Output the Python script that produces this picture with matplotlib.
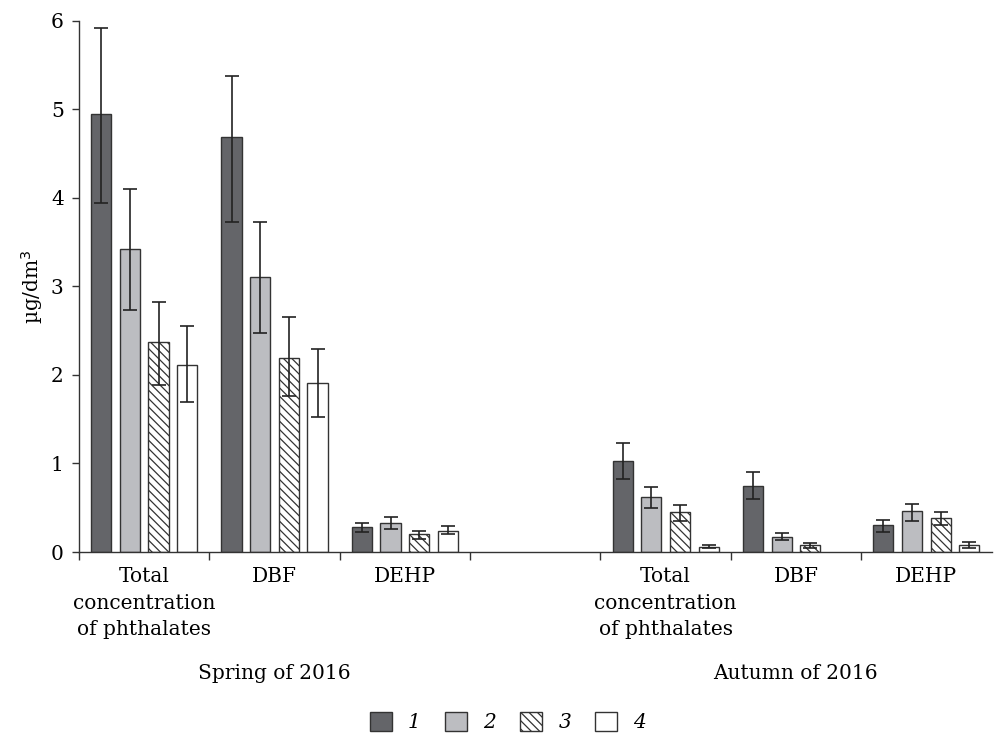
import numpy as np
import matplotlib.pyplot as plt
from matplotlib.patches import Patch

plt.rcParams['font.family'] = 'DejaVu Serif'
plt.rcParams['hatch.linewidth'] = 0.9

# Data
cat_labels = ['Total\nconcentration\nof phthalates', 'DBF', 'DEHP',
              'Total\nconcentration\nof phthalates', 'DBF', 'DEHP']
cat_pos = [0, 1, 2, 4, 5, 6]
series_names = ['1', '2', '3', '4']

# bar heights per series (rows) and category (columns)
values = [
    [4.95, 4.69, 0.28, 1.03, 0.75, 0.31],
    [3.42, 3.11, 0.33, 0.62, 0.17, 0.46],
    [2.37, 2.19, 0.20, 0.45, 0.08, 0.38],
    [2.11, 1.91, 0.24, 0.06, 0.00, 0.08],
]
err_up = [
    [0.97, 0.69, 0.05, 0.20, 0.15, 0.05],
    [0.68, 0.62, 0.06, 0.11, 0.04, 0.08],
    [0.46, 0.47, 0.04, 0.08, 0.02, 0.07],
    [0.44, 0.38, 0.05, 0.02, 0.00, 0.03],
]
err_dn = [
    [1.01, 0.96, 0.05, 0.21, 0.15, 0.08],
    [0.69, 0.63, 0.07, 0.12, 0.04, 0.11],
    [0.48, 0.43, 0.05, 0.10, 0.03, 0.07],
    [0.41, 0.38, 0.04, 0.02, 0.00, 0.03],
]

colors = ['#646569', '#bcbdc1', 'white', 'white']
hatches = [None, None, '\\\\\\\\', None]
fs = 14.5

fig = plt.figure(figsize=(9.94, 7.36), dpi=100)
ax = fig.add_axes([0.0795, 0.25, 0.918, 0.7215])

x = np.array(cat_pos, dtype=float)
step = 0.22
width = 0.155
for i in range(4):
    xs = x + (i - 1.5) * step
    v = np.array(values[i])
    mask = v > 0
    ax.bar(xs[mask], v[mask], width=width, color=colors[i], edgecolor='#333333',
           linewidth=1.0, hatch=hatches[i], zorder=2)
    ax.errorbar(xs[mask], v[mask],
                yerr=[np.array(err_dn[i])[mask], np.array(err_up[i])[mask]],
                fmt='none', ecolor='#222222', elinewidth=1.2, capsize=5,
                capthick=1.2, zorder=3)

ax.set_xlim(-0.5, 6.5)
ax.set_ylim(0, 6)
ax.spines['top'].set_visible(False)
ax.spines['right'].set_visible(False)
for s in ['left', 'bottom']:
    ax.spines[s].set_linewidth(1.0)
    ax.spines[s].set_color('#333333')

ax.set_xticks(cat_pos)
ax.set_xticklabels(cat_labels, fontsize=fs, linespacing=1.5)
ax.set_xticks(np.arange(-0.5, 6.0, 1.0), minor=True)
ax.tick_params(axis='x', which='major', length=0, pad=11)
ax.tick_params(axis='x', which='minor', length=6, width=1.0, color='#333333')
ax.set_yticks(range(7))
ax.tick_params(axis='y', length=5, width=1.0, color='#333333', labelsize=fs, pad=6)

ax.set_ylabel('µg/dm$^3$', fontsize=fs, labelpad=4)

fig.text(0.276, 0.085, 'Spring of 2016', ha='center', va='center', fontsize=fs)
fig.text(0.800, 0.085, 'Autumn of 2016', ha='center', va='center', fontsize=fs)

handles = [Patch(facecolor=colors[i], edgecolor='#333333', hatch=hatches[i])
           for i in range(4)]
leg = fig.legend(handles, series_names, loc='center', bbox_to_anchor=(0.511, 0.019),
                 ncol=4, frameon=False, handlelength=1.1, handleheight=1.1,
                 columnspacing=1.2, handletextpad=0.8,
                 prop={'style': 'italic', 'size': fs})

fig.savefig('out.png', dpi=100)
